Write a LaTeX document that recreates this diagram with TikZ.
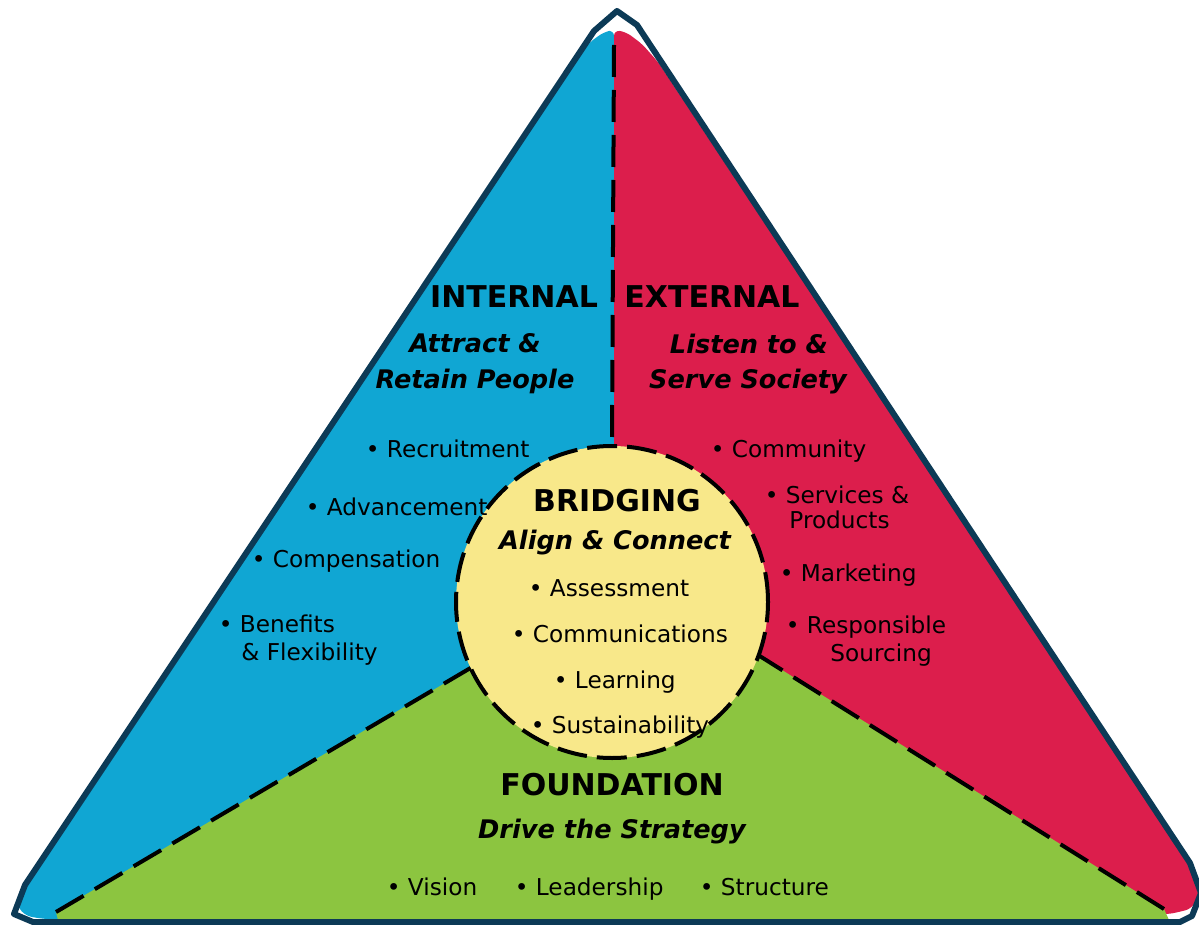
\documentclass[tikz,border=0pt]{standalone}
\usepackage{fontspec}
\setmainfont{DejaVu Sans}
\definecolor{inblue}{RGB}{16,166,211}
\definecolor{exred}{RGB}{220,30,76}
\definecolor{fdgreen}{RGB}{140,197,64}
\definecolor{bryellow}{RGB}{248,232,138}
\definecolor{rim}{RGB}{12,58,86}
\usetikzlibrary{positioning,backgrounds}

\begin{document}
\begin{tikzpicture}[x=0.5pt,y=-0.5pt,
    head/.style={font=\fontsize{15}{18}\selectfont\bfseries,anchor=base,inner sep=0pt},
    tagline/.style={font=\fontsize{12.8}{15}\selectfont\bfseries\itshape,anchor=base,inner sep=0pt},
    item/.style={font=\fontsize{11.6}{14}\selectfont,anchor=base west,inner sep=0pt},
    seam/.style={line width=2pt,dash pattern=on 16pt off 6.5pt}]
  \useasboundingbox (0,0) rectangle (1199,925);

  % centre circle
  \node[circle,minimum size=156pt,inner sep=0pt,outer sep=0pt,fill=bryellow,
        draw=black,line width=2pt,dash pattern=on 15pt off 5pt] (bridge) at (612,602) {};

  \coordinate (seamtop) at (614,45);
  \coordinate (ltip) at (56,912);
  \coordinate (rtip) at (1164,909);

  \begin{scope}[on background layer]
    % internal / external halves
    \fill[inblue,rounded corners=3pt] (614,30) -- (604,32) -- (590,42) -- (574,62)
      -- (22,888) -- (17,906) -- (26,916) -- (44,919) -- (614,919) -- cycle;
    \fill[exred,rounded corners=3pt] (614,30) -- (626,32) -- (642,44) -- (658,62)
      -- (1192,868) -- (1199,896) -- (1191,909) -- (1170,914) -- (614,919) -- cycle;
    % foundation
    \fill[fdgreen] (ltip) -- (bridge.205) -- (bridge.340) -- (rtip)
      -- (1169,920) -- (58,920) -- cycle;
  \end{scope}

  \draw[rim,line width=3pt,line join=round] (617,11) -- (637,25) -- (1190,863)
    -- (1201,893) -- (1192,916) -- (1180,922) -- (33,922) -- (14,914) -- (25,885)
    -- (594,31) -- cycle;

  \draw[seam] (seamtop) -- (bridge.north);
  \draw[seam] (ltip) -- (bridge.205);
  \draw[seam] (rtip) -- (bridge.340);

  % internal
  \node[head] (internal) at (514,307) {INTERNAL};
  \node[tagline] (attract) at (475,352) {Attract \&};
  \node[tagline] (retain) at (475,388) {Retain People};
  \node[item] (recruit) at (365.5,457) {• Recruitment};
  \node[item] (advance) at (305.5,515) {• Advancement};
  \node[item] (compens) at (251.5,567) {• Compensation};
  \node[item] (benefits) at (218.5,632) {• Benefits};
  \node[item] (flex) at (241,660) {\& Flexibility};

  % external
  \node[head] (external) at (712,307) {EXTERNAL};
  \node[tagline] (listen) at (749,353) {Listen to \&};
  \node[tagline] (serve) at (748,388) {Serve Society};
  \node[item] (community) at (710.5,457) {• Community};
  \node[item] (services) at (764.5,503) {• Services \&};
  \node[item] (products) at (789,528) {Products};
  \node[item] (marketing) at (779.5,581) {• Marketing};
  \node[item] (responsible) at (785.5,633) {• Responsible};
  \node[item] (sourcing) at (830,661) {Sourcing};

  % bridging
  \node[head] (bridging) at (617,511) {BRIDGING};
  \node[tagline] (align) at (615,549) {Align \& Connect};
  \node[item] (assess) at (528.5,596) {• Assessment};
  \node[item] (comms) at (511.5,642) {• Communications};
  \node[item] (learning) at (553.5,688) {• Learning};
  \node[item] (sustain) at (530.5,733) {• Sustainability};

  % foundation
  \node[head] (foundation) at (612,795) {FOUNDATION};
  \node[tagline] (drive) at (612,838) {Drive the Strategy};
  \node[item] (vision) at (386.5,895) {• Vision};
  \node[item] (leader) at (514.5,895) {• Leadership};
  \node[item] (structure) at (699.5,895) {• Structure};
\end{tikzpicture}
\end{document}
